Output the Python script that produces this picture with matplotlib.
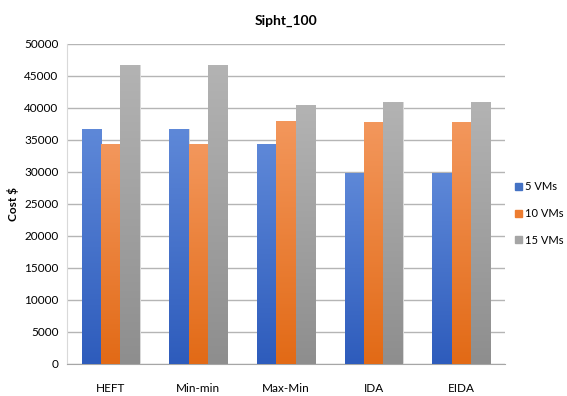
import matplotlib.pyplot as plt
import numpy as np
from matplotlib.colors import LinearSegmentedColormap
from matplotlib.patches import Patch

plt.rcParams['font.family'] = ['Lato', 'DejaVu Sans']

# donnees
categories = ['HEFT', 'Min-min', 'Max-Min', 'IDA', 'EIDA']
series = ['5 VMs', '10 VMs', '15 VMs']
vm5 = [36700, 36700, 34300, 29900, 29900]
vm10 = [34300, 34300, 38000, 37800, 37800]
vm15 = [46700, 46700, 40400, 40900, 40900]
valeurs = [vm5, vm10, vm15]

# couleurs haut / bas du degrade
couleurs = [('#5e88d8', '#2e5cbc'), ('#f3975c', '#e26a16'), ('#b3b3b3', '#8e8e8e')]
couleurs_leg = ['#4472c4', '#ed7d31', '#a5a5a5']

fig = plt.figure(figsize=(5.67, 3.96), dpi=100)
ax = fig.add_axes([0.118, 0.081, 0.773, 0.808])

x = np.arange(len(categories))
w = 0.22
grad = np.linspace(0, 1, 100).reshape(-1, 1)

for i, vals in enumerate(valeurs):
    bars = ax.bar(x + (i - 1) * w, vals, w, color='none', edgecolor='none', zorder=3)
    cmap = LinearSegmentedColormap.from_list('g%d' % i, [couleurs[i][1], couleurs[i][0]])
    for b in bars:
        bx, by = b.get_x(), b.get_y()
        bw, bh = b.get_width(), b.get_height()
        # petite ombre a droite
        ax.bar(bx + bw / 2 + 0.012, bh, bw, bottom=by, color='#d9d9d9', zorder=2)
        im = ax.imshow(grad, extent=[bx, bx + bw, by, by + bh], origin='lower',
                       cmap=cmap, aspect='auto', zorder=3)
        im.set_clip_path(b)

ax.set_xlim(-0.5, len(categories) - 0.5)
ax.set_ylim(0, 50000)
ax.set_yticks(np.arange(0, 50001, 5000))
ax.set_xticks(x)
ax.set_xticklabels(categories)
ax.tick_params(axis='x', length=0, pad=14, labelsize=8.5)
ax.tick_params(axis='y', length=0, pad=6, labelsize=8.5)

ax.grid(axis='y', color='#b5b5b5', linewidth=1, zorder=0)
ax.set_axisbelow(True)
for s in ['top', 'right']:
    ax.spines[s].set_visible(False)
ax.spines['left'].set_color('#d9d9d9')
ax.spines['bottom'].set_color('#a6a6a6')

ax.set_title('Sipht_100', fontsize=10, fontweight='bold', pad=14)
ax.set_ylabel('Cost $', fontsize=8.5, fontweight='bold', labelpad=4)

handles = [Patch(color=c) for c in couleurs_leg]
ax.legend(handles, series, loc='center left', bbox_to_anchor=(1.0, 0.47), frameon=False,
          fontsize=8, handlelength=0.6, handleheight=0.6, handletextpad=0.3,
          borderaxespad=0.5, labelspacing=1.4)

plt.savefig('out.png', dpi=100)
